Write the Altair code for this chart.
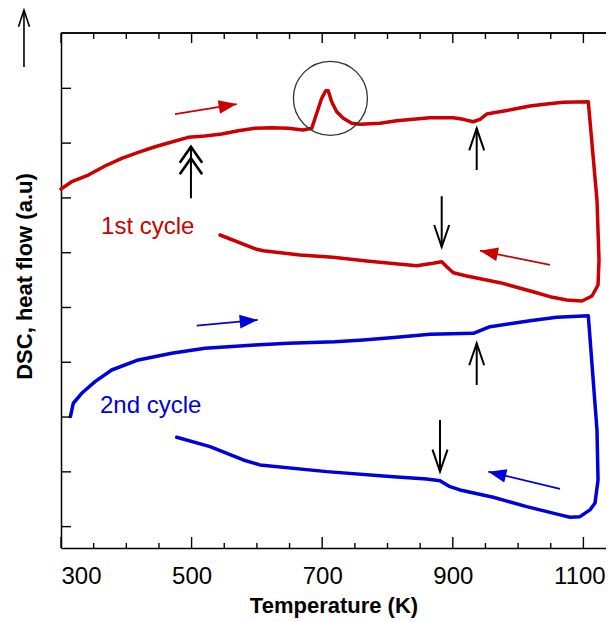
import math
import altair as alt
import pandas as pd

# ---------------- data ----------------
red_T = [300, 316.4, 341.8, 367.4, 393, 418.4, 444, 469.5, 495, 520.5, 546, 571.5, 597, 622.7, 648,
         670.6, 683.9, 691.6, 699.2, 705.4, 709.3, 714.5, 722.2, 732.3, 745.2, 757.9, 788.5, 814,
         839.5, 865, 900.8, 916, 931.4, 941.6, 951.9, 967.2, 992.6, 1018.2, 1043.7, 1069.2, 1107.5,
         1120.8, 1123.9, 1122.4, 1113.2, 1097.9,
         1074.4, 1048.8, 1022.8, 972.3, 921.3, 900.8, 890.7, 883, 869.7, 844.7, 768.1, 716.5, 666,
         609.8, 599.7, 543.5]
red_v = [6.162, 6.296, 6.418, 6.582, 6.723, 6.832, 6.934, 7.02, 7.106, 7.13, 7.166, 7.226, 7.27, 7.281, 7.27,
         7.239, 7.27, 7.544, 7.818, 7.956, 7.956, 7.755, 7.573, 7.453, 7.361, 7.343, 7.361, 7.409,
         7.434, 7.464, 7.464, 7.434, 7.39, 7.434, 7.531, 7.562, 7.617, 7.677, 7.714, 7.745, 7.755,
         5.96, 4.867, 4.41, 4.21, 4.119,
         4.137, 4.197, 4.288, 4.453, 4.575, 4.635, 4.745, 4.836, 4.807, 4.763, 4.849, 4.916, 4.958,
         5.036, 5.062, 5.323]

blue_T = [314.5, 318.8, 331.7, 352.1, 377.6, 418.4, 469.5, 520.5, 597, 648, 719.6, 762.9, 814.1,
          865.1, 931.4, 957, 992.6, 1018.2, 1059.1, 1107.5,
          1120.8, 1122.4, 1117.8, 1110, 1094.8, 1079.5,
          1064.2, 1013.2, 962, 911, 895.7, 880.4, 860, 808.9, 706.9, 604.7, 579.2, 528.2, 477.2]
blue_v = [2.011, 2.252, 2.434, 2.646, 2.859, 3.042, 3.164, 3.255, 3.316, 3.347, 3.376, 3.407, 3.456,
          3.511, 3.529, 3.65, 3.712, 3.759, 3.821, 3.85,
          1.761, 0.852, 0.432, 0.305, 0.182, 0.172,
          0.214, 0.365, 0.536, 0.670, 0.730, 0.839, 0.870, 0.912, 1.004, 1.126, 1.217, 1.46, 1.631]

# coloured direction arrows (tail -> tip)
dir_cycle = ["1st cycle", "1st cycle", "2nd cycle", "2nd cycle"]
dir_T0 = [474.6, 1048.8, 507.8, 1064.2]
dir_v0 = [7.531, 4.776, 3.668, 0.688]
dir_T1 = [569.0, 941.6, 601.2, 954.4]
dir_v1 = [7.713, 5.036, 3.772, 1.004]

# black marker arrows (vertical, tail -> tip)
mark_T = [936.6, 883.0, 936.6, 880.4]
mark_v0 = [6.509, 6.031, 2.586, 1.947]
mark_v1 = [7.270, 5.104, 3.347, 1.004]

# double-chevron arrow
dbl_T = [499.0]
dbl_v0 = [5.993]
dbl_heads = [6.934, 6.723]

# axis arrow at top left (heat flow direction)
up_T = [243.3]
up_v0 = [8.389]
up_v1 = [9.429]

# circled peak
circle_T = [712.6]
circle_v = [7.818]

# cycle labels
lab_text = ["1st cycle", "2nd cycle"]
lab_T = [361.3, 359.7]
lab_v = [5.35, 2.069]

x_major = [300, 500, 700, 900, 1100]
x_minor = [350, 400, 450, 550, 600, 650, 750, 800, 850, 950, 1000, 1050]
y_ticks = [0, 1, 2, 3, 4, 5, 6, 7, 8]

# ---------------- chart ----------------
W, H = 545, 515
XMIN, XMAX = 300, 1134.6
YMIN, YMAX = -0.39, 9.01
RED, BLUE = "#cc0000", "#0000dd"
FONT = "Liberation Sans"

xs = alt.Scale(domain=[XMIN, XMAX], nice=False, zero=False)
ys = alt.Scale(domain=[YMIN, YMAX], nice=False, zero=False)
cs = alt.Scale(domain=["1st cycle", "2nd cycle"], range=[RED, BLUE])
sx = W / (XMAX - XMIN)
sy = H / (YMAX - YMIN)

axX = alt.Axis(
    title="Temperature (K)", values=x_major, format="d", ticks=False, tickSize=0, domain=True,
    domainColor="black", domainWidth=1.5, grid=False,
    labelFontSize=24, labelPadding=16, labelColor="black", labelFont=FONT,
    labelOffset={"condition": {"test": "datum.value >= 1100", "value": -4}, "value": 0},
    titleFontSize=22, titleFontWeight="bold", titleFont=FONT, titleColor="black",
    titleBaseline="alphabetic", titleY=64)
axY = alt.Axis(
    title="DSC, heat flow (a.u)", labels=False, ticks=False, tickSize=0, domain=True,
    domainColor="black", domainWidth=1.5, grid=False,
    titleFontSize=22, titleFontWeight="bold", titleFont=FONT, titleColor="black",
    titleBaseline="alphabetic", titleAlign="center", titleX=-30, titleY=243, titleAngle=270)


def X(f):
    return alt.X(f, scale=xs, axis=axX)


def Y(f):
    return alt.Y(f, scale=ys, axis=axY)


COL = alt.Color("cycle:N", scale=cs, legend=None)

curves = pd.concat([
    pd.DataFrame({"T": red_T, "v": red_v, "cycle": "1st cycle", "i": range(len(red_T))}),
    pd.DataFrame({"T": blue_T, "v": blue_v, "cycle": "2nd cycle", "i": range(len(blue_T))}),
])

line = alt.Chart(curves).mark_line(strokeWidth=3.5, strokeJoin="round", strokeCap="round").encode(
    x=X("T:Q"), y=Y("v:Q"), color=COL, detail="cycle:N", order=alt.Order("i:Q"))

# direction arrows
dir_df = pd.DataFrame({"cycle": dir_cycle, "T0": dir_T0, "v0": dir_v0, "T1": dir_T1, "v1": dir_v1})
dir_df["ang"] = [math.degrees(math.atan2(-(b1 - b0) * sy, (a1 - a0) * sx)) % 360
                 for a0, b0, a1, b1 in zip(dir_T0, dir_v0, dir_T1, dir_v1)]
dir_shaft = alt.Chart(dir_df).mark_rule(strokeWidth=1.8).encode(
    x=X("T0:Q"), y=Y("v0:Q"), x2="T1:Q", y2="v1:Q", color=COL)
dir_head = alt.Chart(dir_df).mark_point(shape="M0,0L-1,-0.38L-1,0.38Z", filled=True, size=1296,
                                        opacity=1, strokeWidth=0).encode(
    x=X("T1:Q"), y=Y("v1:Q"), angle=alt.Angle("ang:Q", scale=None), color=COL)

# black marker arrows
mk_df = pd.DataFrame({"T": mark_T, "v0": mark_v0, "v1": mark_v1})
mk_df["ang"] = [0 if b > a else 180 for a, b in zip(mark_v0, mark_v1)]
mk_shaft = alt.Chart(mk_df).mark_rule(strokeWidth=2, color="black").encode(
    x=X("T:Q"), y=Y("v0:Q"), y2="v1:Q")
mk_head = alt.Chart(mk_df).mark_point(shape="M-0.34,1L0,0L0.34,1", filled=False, size=1936,
                                      strokeWidth=2, color="black", opacity=1).encode(
    x=X("T:Q"), y=Y("v1:Q"), angle=alt.Angle("ang:Q", scale=None))

# double chevron arrow
dbl_df = pd.DataFrame({"T": dbl_T, "v0": dbl_v0, "v1": [max(dbl_heads)]})
dbl_shaft = alt.Chart(dbl_df).mark_rule(strokeWidth=2, color="black").encode(
    x=X("T:Q"), y=Y("v0:Q"), y2="v1:Q")
dbl_head_df = pd.DataFrame({"T": dbl_T * len(dbl_heads), "v": dbl_heads})
dbl_head = alt.Chart(dbl_head_df).mark_point(shape="M-0.7,1L0,0L0.7,1", filled=False, size=1024,
                                             strokeWidth=2.6, color="black", opacity=1).encode(
    x=X("T:Q"), y=Y("v:Q"))

# top-left arrow
up_df = pd.DataFrame({"T": up_T, "v0": up_v0, "v1": up_v1})
up_shaft = alt.Chart(up_df).mark_rule(strokeWidth=1.6, color="black").encode(
    x=X("T:Q"), y=Y("v0:Q"), y2="v1:Q")
up_head = alt.Chart(up_df).mark_point(shape="M-0.33,1L0,0L0.33,1", filled=False, size=1100,
                                      strokeWidth=1.6, color="black", opacity=1).encode(
    x=X("T:Q"), y=Y("v1:Q"))

# circle around the peak (Vega circle radius = sqrt(size)/2)
circ = alt.Chart(pd.DataFrame({"T": circle_T, "v": circle_v})).mark_point(
    shape="circle", filled=False, size=5476, strokeWidth=1.3, color="#333333", opacity=1).encode(
    x=X("T:Q"), y=Y("v:Q"))

# cycle labels
labels = alt.Chart(pd.DataFrame({"cycle": lab_text, "T": lab_T, "v": lab_v})).mark_text(
    align="left", baseline="alphabetic", fontSize=24, font=FONT).encode(
    x=X("T:Q"), y=Y("v:Q"), text="cycle:N", color=COL)


# inward ticks and the top border
def xticks(vals, y_from, y_to):
    return alt.Chart(pd.DataFrame({"t": vals})).mark_rule(strokeWidth=1.4, color="black").encode(
        x=X("t:Q"), y=alt.value(y_from), y2=alt.value(y_to))


def yticks(vals, x_from, x_to):
    return alt.Chart(pd.DataFrame({"t": vals})).mark_rule(strokeWidth=1.4, color="black").encode(
        y=Y("t:Q"), x=alt.value(x_from), x2=alt.value(x_to))


top_border = alt.Chart(pd.DataFrame({"t": [XMIN, XMAX]})).mark_rule(
    strokeWidth=1.5, color="black").encode(
    x=alt.value(0), x2=alt.value(W), y=alt.value(0))

ticks = [
    xticks(x_major, H, H - 11), xticks(x_minor, H, H - 5),
    xticks(x_major, 0, 10), xticks(x_minor, 0, 6),
    yticks(y_ticks, 0, 10),
]

chart = alt.layer(
    line, *ticks, top_border, circ, dir_shaft, dir_head, mk_shaft, mk_head, dbl_shaft, dbl_head,
    up_shaft, up_head, labels,
).properties(
    width=W, height=H,
    padding={"left": 53, "top": 25, "right": 0, "bottom": 70},
    autosize=alt.AutoSizeParams(type="none"),
    background="white",
).configure_view(stroke=None)

chart.save("out.html", embed_options={"renderer": "svg", "actions": False})
